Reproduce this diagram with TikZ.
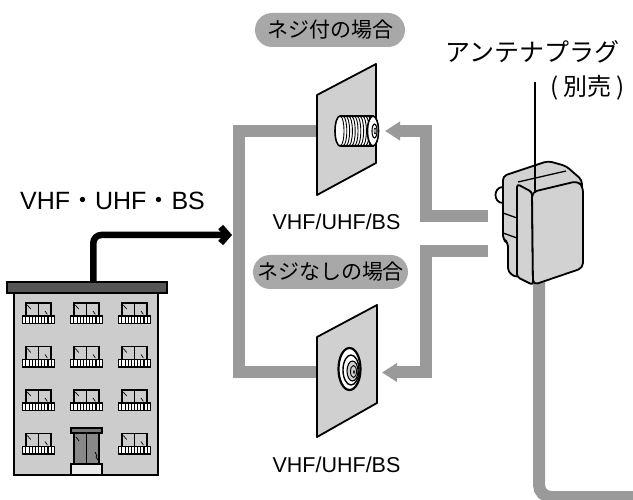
\documentclass[tikz,border=0pt]{standalone}
\usepackage{fontspec}
\setmainfont{Liberation Sans}
\newfontfamily\jpfont{Noto Sans CJK JP}
\usetikzlibrary{arrows.meta}

\definecolor{pipegray}{HTML}{9A9A9A}
\definecolor{pillgray}{HTML}{A8A8A8}
\definecolor{platefill}{HTML}{D0D0D0}
\definecolor{wallfill}{HTML}{CCCCCC}
\definecolor{rooffill}{HTML}{555555}
\definecolor{doorfill}{HTML}{888888}
\definecolor{plugfill}{HTML}{D2D2D2}

\tikzset{
  pipe/.style={draw=pipegray, line width=12pt},
  pipehead/.style={-{Triangle[length=15pt,width=18pt]}},
  plate/.style={draw=black, line width=1.8pt, fill=platefill, line join=round},
  pill/.style={fill=pillgray, rounded corners=17pt, minimum height=34pt,
    inner sep=0pt, font=\jpfont\fontsize{21}{24}\selectfont},
  latinlabel/.style={inner sep=0pt, anchor=base, font=\fontsize{21.5}{24}\selectfont},
  plugline/.style={draw=black, line width=1.8pt, line join=round},
  balconywin/.pic={
    \draw[line width=1.1pt] (-12.5,0) rectangle (12.5,13);
    \draw[line width=1pt] (0,0) -- (0,13);
    \draw[line width=0.7pt] (-11.2,2) -- (-7.8,6) (6.5,8) -- (8.8,11.3);
    \filldraw[fill=white, line width=1.2pt] (-16,13) rectangle (16,20.5);
    \foreach \b in {-12.6,-9.45,...,12.7}
      \draw[line width=1.1pt] (\b,13) -- (\b,20.5);
  }
}

\begin{document}
\begin{tikzpicture}[x=1pt,y=-1pt]
\useasboundingbox (0,0) rectangle (633,500);

% ---- cable routes (grey) ----
\coordinate (upperPlug) at (330,131);
\coordinate (lowerPlug) at (330,372.5);
\coordinate (upperIn) at (385,131);
\coordinate (lowerIn) at (382,372.5);
\coordinate (feedA) at (488,216);
\coordinate (feedB) at (488,251);
\draw[pipe] (upperPlug) -- (239,131) -- (239,372.5) -- (lowerPlug);
\draw[pipe, pipehead] (feedA) -- (425.5,216) -- (425.5,131) -- (upperIn);
\draw[pipe, pipehead] (feedB) -- (425.5,251) -- (425.5,372.5) -- (lowerIn);

% cord leaving the plug
\coordinate (cordTop) at (539,280);
\coordinate (cordEnd) at (633,497);
\draw[pipe, rounded corners=12pt] (cordTop) -- (539,497) -- (cordEnd);

% ---- wall plates ----
\draw[plate] (317,95) -- (376,64) -- (376,163) -- (317,195) -- cycle;
\draw[plate] (317,337) -- (377,305) -- (377,403) -- (317,437) -- cycle;

% threaded (F-type) socket
\filldraw[fill=white, line width=1.6pt] (340,116) -- (373,116) -- (373,146) -- (340,146)
  arc[start angle=270, end angle=90, x radius=5pt, y radius=15pt] -- cycle;
\foreach \t in {340.5,343.3,...,369}
  \draw[line width=0.9pt] (\t,116.5) arc[start angle=90, end angle=-90, x radius=3.5pt, y radius=14.5pt];
\filldraw[fill=white, line width=1.6pt] (373,131) ellipse [x radius=5.5pt, y radius=15pt];
\draw[line width=1.1pt] (374.5,131) ellipse [x radius=2.5pt, y radius=7pt];
\draw[line width=0.6pt] (375,131) ellipse [x radius=1pt, y radius=3pt];

% plain socket
\filldraw[fill=white, line width=2.2pt] (349.5,369) ellipse [x radius=11pt, y radius=21pt];
\draw[line width=1.4pt] (351,370) ellipse [x radius=8pt, y radius=15pt];
\filldraw[fill=platefill, line width=1.1pt] (352.5,371) ellipse [x radius=5.5pt, y radius=10pt];
\draw[line width=0.9pt] (353.5,371.5) ellipse [x radius=3pt, y radius=6pt];
\fill (354,372) ellipse [x radius=0.8pt, y radius=2pt];

% ---- signal arrow from the building ----
\coordinate (mastFoot) at (93.3,286);
\coordinate (feedTip) at (232,235);
\draw[line width=6.5pt, rounded corners=8pt, -{Straight Barb[length=7pt,width=16pt]}]
  (mastFoot) -- (93.3,235) -- (feedTip);

% ---- apartment building ----
\filldraw[fill=wallfill, line width=2.2pt] (14,292) rectangle (158,475);
\filldraw[fill=rooffill, line width=2pt] (7,282) rectangle (167,293);
\foreach \cx/\wy in {38.5/303,86.5/303,134.5/303,
                     38.5/346.5,86.5/346.5,134.5/346.5,
                     38.5/390,86.5/390,134.5/390,
                     38.5/433.5,134.5/433.5}
  \pic at (\cx,\wy) {balconywin};
% entrance
\filldraw[fill=rooffill!80, line width=1.2pt] (71,428) rectangle (102,433);
\filldraw[fill=doorfill, line width=1.2pt] (74,433) rectangle (99,464);
\draw[line width=1pt] (86.5,433) -- (86.5,464);
\draw[line width=0.7pt] (76,437) -- (79,441) (95,452) -- (97,456) -- (96,457) -- (98,460);
\filldraw[fill=white!92!black, line width=1.1pt] (71,464) rectangle (102,475);

% ---- labels ----
\node[latinlabel, font=\fontsize{25}{28}\selectfont] (bands) at (112.5,210)
  {VHF{\jpfont ・}UHF{\jpfont ・}BS};
\node[pill, minimum width=150pt] (screwCase) at (330,30) {ネジ付の場合};
\node[pill, minimum width=155pt] (plainCase) at (330.5,272) {ネジなしの場合};
\node[latinlabel] (upperBands) at (336.5,230) {VHF/UHF/BS};
\node[latinlabel] (lowerBands) at (336.5,472) {VHF/UHF/BS};
\node[inner sep=0pt, font=\jpfont\fontsize{25}{28}\selectfont] (plugName) at (532,52) {アンテナプラグ};
\node[inner sep=0pt, font=\jpfont\fontsize{24}{27}\selectfont] (soldApart) at (588,88)
  {(\hspace{5pt}別売\hspace{5pt})};

% ---- antenna plug ----
\draw[plugline, fill=plugfill, rounded corners=4pt]
  (503,240) -- (503,176) -- (548,161) -- (566,166) -- (582,180) -- (582,200)
  -- (517,278) -- (508,272) -- (508,242) -- cycle;
\draw[plugline] (503,187) .. controls (493,187) and (493,203) .. (503,203);
\draw[plugline, line width=1.3pt] (503,213) -- (517,218) (503,233) -- (517,238);
\draw[plugline, fill=plugfill, rounded corners=3pt]
  (517,184) -- (532,192) -- (533,285) -- (517,277) -- cycle;
\draw[plugline, fill=plugfill, rounded corners=5pt]
  (532,192) -- (578,181) -- (583,187) -- (583,268) -- (533,285) -- cycle;
\draw[plugline, line width=1.3pt] (518,182) -- (566,171);
\coordinate (plugCorner) at (535,192);
\coordinate (leadTop) at (535,82);
\draw[line width=1.4pt] (leadTop) -- (plugCorner);
\end{tikzpicture}
\end{document}
